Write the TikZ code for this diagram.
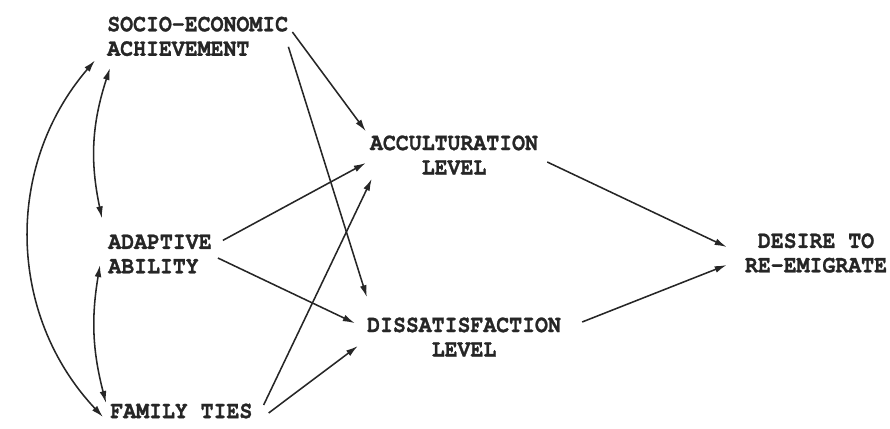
\documentclass[tikz,border=0pt]{standalone}
\usepackage{fontspec}
\usepackage{tikz}
\usetikzlibrary{arrows.meta}
\usepackage{xcolor}
\newfontfamily\diagfont[FakeStretch=0.88,FakeBold=1]{TeX Gyre Cursor}
\definecolor{inkdark}{HTML}{262626}

\begin{document}
\begin{tikzpicture}[
    var/.style={inner sep=0.1cm, text=inkdark,
                font=\diagfont\bfseries\fontsize{17.4}{17.4}\selectfont},
    varl/.style={var, align=left, anchor=west},
    varc/.style={var, align=center},
    arr/.style={-{Latex[length=3mm,width=1.7mm]}, line width=1.1pt, draw=inkdark},
    dbl/.style={{Latex[length=3mm,width=1.7mm]}-{Latex[length=3mm,width=1.7mm]},
                line width=1.1pt, draw=inkdark}
  ]
  \useasboundingbox (0,0) rectangle (22.25,10.7);

  \node[varl] (socio)    at (2.575,9.79) {SOCIO-ECONOMIC\\ACHIEVEMENT};
  \node[varl] (adaptive) at (2.6,4.35)   {ADAPTIVE\\ABILITY};
  \node[varl] (family)   at (2.65,0.425) {FAMILY TIES};
  \node[varc] (accult)   at (11.35,6.825) {ACCULTURATION\\LEVEL};
  \node[varc] (dissat)   at (11.6,2.275) {DISSATISFACTION\\LEVEL};
  \node[varc] (desire)   at (20.4,4.375) {DESIRE TO\\RE-EMIGRATE};

  \draw[arr] ([yshift=1.1mm]socio.east) -- (accult.north west);
  \draw[arr] ([xshift=-1mm,yshift=-2.6mm]socio.east) -- ([xshift=1mm,yshift=4mm]dissat.north west);
  \draw[arr] ([xshift=1.75mm,yshift=-2.5mm]adaptive.north east) -- ([yshift=-2mm]accult.west);
  \draw[arr] ([xshift=0.5mm,yshift=-1mm]adaptive.east) -- ([xshift=-2mm,yshift=-2.5mm]dissat.north west);
  \draw[arr] ([xshift=1.75mm,yshift=1.5mm]family.east) -- ([xshift=1.5mm]accult.south west);
  \draw[arr] ([xshift=3mm,yshift=-0.5mm]family.east) -- ([xshift=-1.25mm,yshift=-2.25mm]dissat.west);
  \draw[arr] ([xshift=1.25mm,yshift=-1.75mm]accult.east) -- ([xshift=-3.5mm,yshift=1.5mm]desire.west);
  \draw[arr] ([xshift=4.25mm,yshift=3.75mm]dissat.east) -- ([xshift=-3.5mm,yshift=-3mm]desire.west);

  \draw[dbl] ([xshift=-2mm]socio.south west) to[bend right=42] ([xshift=-0.75mm,yshift=-1.5mm]family.west);
  \draw[dbl] ([xshift=1.75mm,yshift=-1.9mm]socio.south west) to[bend right=15] ([xshift=-0.5mm,yshift=3mm]adaptive.north west);
  \draw[dbl] ([xshift=-1mm,yshift=-2.75mm]adaptive.west) to[bend right=12] ([yshift=2mm]family.west);
\end{tikzpicture}
\end{document}
